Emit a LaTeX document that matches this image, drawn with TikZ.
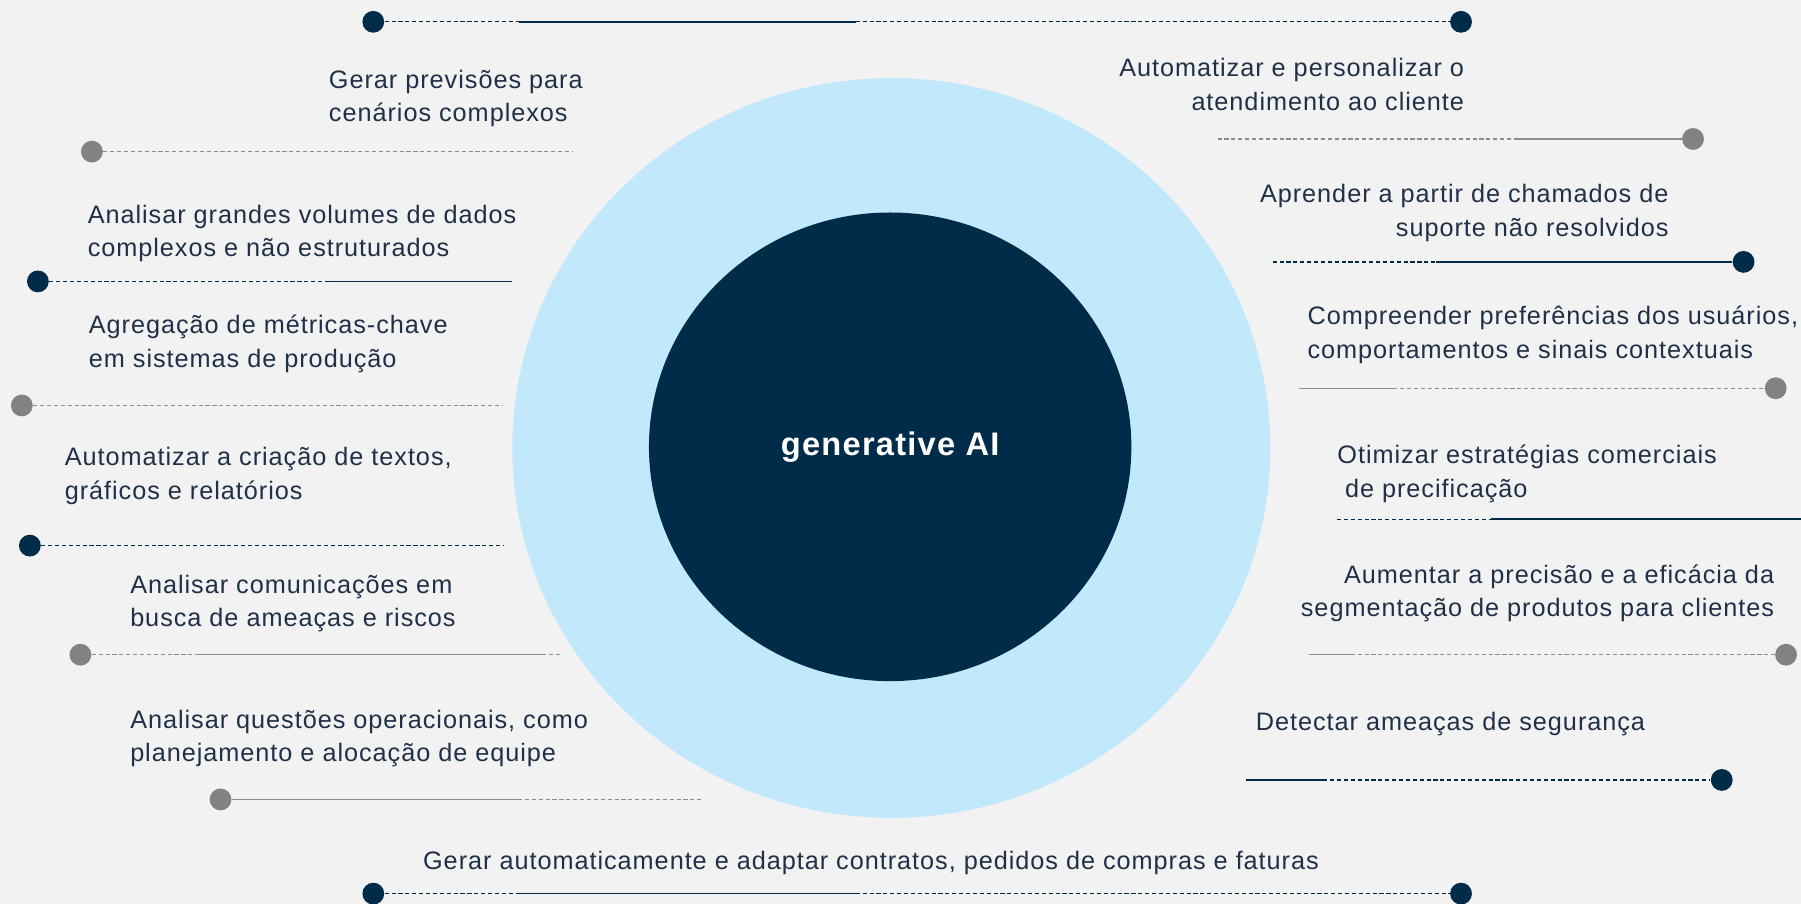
\documentclass[tikz,border=0pt]{standalone}
\usepackage{fontspec}
\usetikzlibrary{shapes.geometric}
\setmainfont{Liberation Sans}[LetterSpace=3.8]
\definecolor{bggrey}{HTML}{F2F2F2}
\definecolor{ringblue}{HTML}{C2E8FB}
\definecolor{navy}{HTML}{002B49}
\definecolor{txtnavy}{HTML}{1F3048}
\definecolor{dotgrey}{HTML}{828282}
\definecolor{linegrey}{HTML}{8C8C8C}
\begin{document}
\begin{tikzpicture}[x=0.5pt,y=-0.5pt,
  ddot/.style={circle, fill=navy, inner sep=0, minimum size=9.5pt},
  gdot/.style={circle, fill=dotgrey, inner sep=0, minimum size=9.5pt},
  dsolid/.style={draw=navy, line width=0.6pt},
  ddash/.style={draw=navy, line width=0.55pt, dash pattern=on 1.8pt off 1.2pt},
  gsolid/.style={draw=linegrey, line width=0.6pt},
  gdash/.style={draw=linegrey, line width=0.5pt, dash pattern=on 1.8pt off 1.2pt},
  lbl/.style={inner sep=0, text=txtnavy, font=\fontsize{11}{14.5}\selectfont},
  lbll/.style={lbl, anchor=west, align=left},
  lblr/.style={lbl, anchor=east, align=right}]
\fill[bggrey] (0,0) rectangle (1568,787);
\useasboundingbox (0,0) rectangle (1568,787);
\node[ellipse, fill=ringblue, inner sep=0, minimum width=330pt, minimum height=322pt] (ring) at (776,390) {};
\node[ellipse, fill=navy, inner sep=0, minimum width=210pt, minimum height=204pt, text=white,
  font=\fontsize{14.2}{16}\selectfont\bfseries] (gai) at (775,389) {generative AI};
% top
\node[ddot] (dt1) at (325,19) {};
\node[ddot] (dt2) at (1272,19) {};
\coordinate (ct1) at (452,19);
\coordinate (ct2) at (745,19);
\draw[ddash] (dt1) -- (ct1);
\draw[dsolid] (ct1) -- (ct2);
\draw[ddash] (ct2) -- (dt2);
% left side
\node[lbll] (tl1) at (286,85.5) {Gerar previsões para\\cenários complexos};
\node[gdot] (dl1) at (80,132) {};
\coordinate (el1) at (498,132);
\draw[gdash] (dl1) -- (el1);
\node[lbll] (tl2) at (76,203.5) {Analisar grandes volumes de dados\\complexos e não estruturados};
\node[ddot] (dl2) at (33,245) {};
\coordinate (bl2) at (286,245);
\coordinate (el2) at (446,245);
\draw[ddash] (dl2) -- (bl2);
\draw[dsolid] (bl2) -- (el2);
\node[lbll] (tl3) at (77,299.5) {Agregação de métricas-chave\\em sistemas de produção};
\node[gdot] (dl3) at (19,353) {};
\coordinate (el3) at (438,353);
\draw[gdash] (dl3) -- (el3);
\node[lbll] (tl4) at (56,414.5) {Automatizar a criação de textos,\\gráficos e relatórios};
\node[ddot] (dl4) at (26,475) {};
\coordinate (el4) at (438,475);
\draw[ddash] (dl4) -- (el4);
\node[lbll] (tl5) at (113,525.5) {Analisar comunicações em\\busca de ameaças e riscos};
\node[gdot] (dl5) at (70,570) {};
\coordinate (bl5) at (172,570);
\coordinate (cl5) at (472,570);
\coordinate (el5) at (490,570);
\draw[gdash] (dl5) -- (bl5);
\draw[gsolid] (bl5) -- (cl5);
\draw[gdash] (cl5) -- (el5);
\node[lbll] (tl6) at (113,643) {Analisar questões operacionais, como\\planejamento e alocação de equipe};
\node[gdot] (dl6) at (192,696) {};
\coordinate (bl6) at (451,696);
\coordinate (el6) at (612,696);
\draw[gsolid] (dl6) -- (bl6);
\draw[gdash] (bl6) -- (el6);
% right side
\node[lblr] (tr1) at (1275,73.5) {Automatizar e personalizar o\\atendimento ao cliente};
\node[gdot] (dr1) at (1474,121) {};
\coordinate (sr1) at (1060,121);
\coordinate (br1) at (1322,121);
\draw[gdash] (sr1) -- (br1);
\draw[gsolid] (br1) -- (dr1);
\node[lblr] (tr2) at (1453,185.5) {Aprender a partir de chamados de\\suporte não resolvidos};
\node[ddot] (dr2) at (1518,228) {};
\coordinate (sr2) at (1108,228);
\coordinate (br2) at (1250,228);
\draw[ddash] (sr2) -- (br2);
\draw[dsolid] (br2) -- (dr2);
\node[lbll] (tr3) at (1138,291.5) {Compreender preferências dos usuários,\\comportamentos e sinais contextuais};
\node[gdot] (dr3) at (1546,338) {};
\coordinate (sr3) at (1131,338);
\coordinate (br3) at (1213,338);
\draw[gsolid] (sr3) -- (br3);
\draw[gdash] (br3) -- (dr3);
\node[lbll] (tr4) at (1164,412.5) {Otimizar estratégias comerciais\\\hspace{0.3em}de precificação};
\coordinate (sr4) at (1164,452);
\coordinate (br4) at (1298,452);
\coordinate (er4) at (1568,452);
\draw[ddash] (sr4) -- (br4);
\draw[dsolid] (br4) -- (er4);
\node[lblr] (tr5) at (1545,516.5) {Aumentar a precisão e a eficácia da\\segmentação de produtos para clientes};
\node[gdot] (dr5) at (1555,570) {};
\coordinate (sr5) at (1140,570);
\coordinate (br5) at (1176,570);
\draw[gsolid] (sr5) -- (br5);
\draw[gdash] (br5) -- (dr5);
\node[lbll] (tr6) at (1093,630) {Detectar ameaças de segurança};
\node[ddot] (dr6) at (1499,679) {};
\coordinate (sr6) at (1085,679);
\coordinate (br6) at (1152,679);
\draw[dsolid] (sr6) -- (br6);
\draw[ddash] (br6) -- (dr6);
% bottom
\node[lbll] (tb) at (368,751) {Gerar automaticamente e adaptar contratos, pedidos de compras e faturas};
\node[ddot] (db1) at (325,778) {};
\node[ddot] (db2) at (1272,778) {};
\coordinate (cb1) at (452,778);
\coordinate (cb2) at (745,778);
\draw[ddash] (db1) -- (cb1);
\draw[dsolid] (cb1) -- (cb2);
\draw[ddash] (cb2) -- (db2);
\end{tikzpicture}
\end{document}
